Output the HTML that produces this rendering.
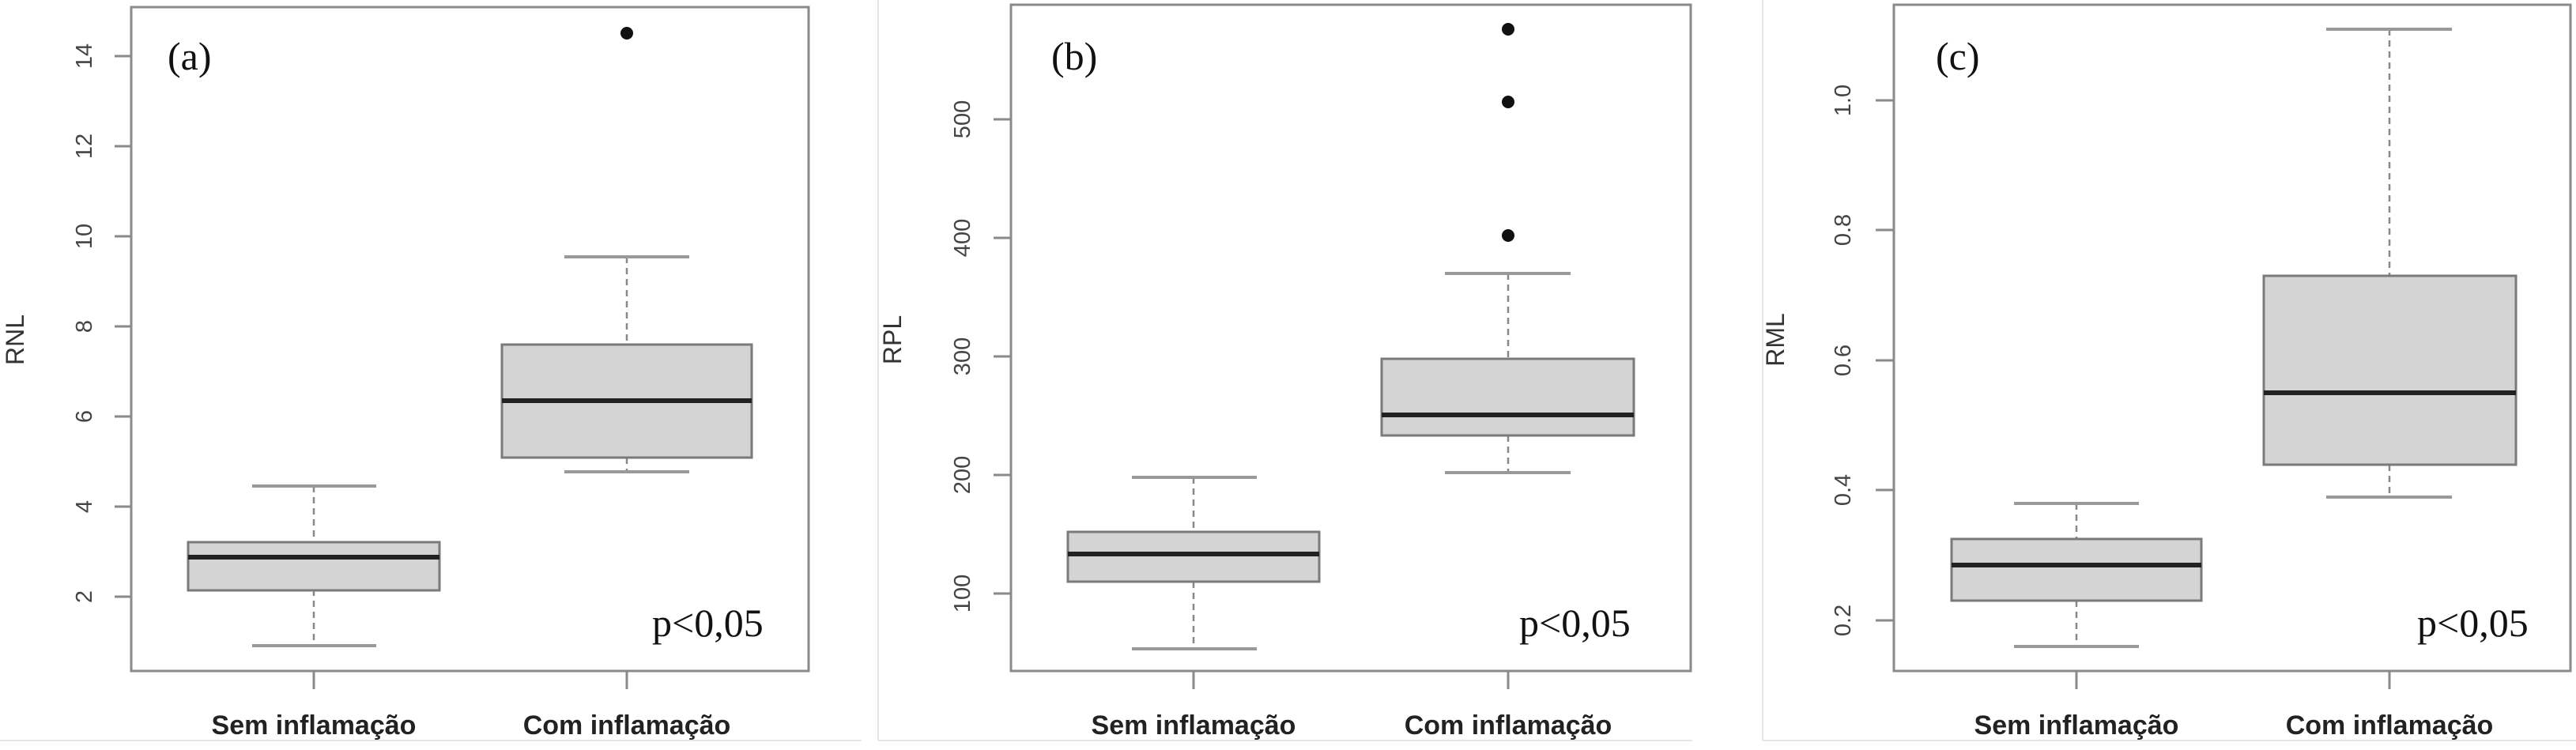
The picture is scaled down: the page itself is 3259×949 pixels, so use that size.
<!DOCTYPE html>
<html><head><meta charset="utf-8"><style>
html,body{margin:0;padding:0;background:#fff;}
svg{display:block;}
.tl{font-family:"Liberation Sans",sans-serif;font-size:29px;fill:#444;}
.al{font-family:"Liberation Sans",sans-serif;font-size:32px;fill:#333;}
.xl{font-family:"Liberation Sans",sans-serif;font-size:34px;font-weight:bold;fill:#222;}
.pl{font-family:"Liberation Serif",serif;font-size:50px;fill:#111;}
.fr{fill:none;stroke:#8a8a8a;stroke-width:3;}
.tk{stroke:#8a8a8a;stroke-width:3;}
.bx{fill:#d4d4d4;stroke:#7a7a7a;stroke-width:3;}
.md{stroke:#222;stroke-width:6;}
.wh{stroke:#888;stroke-width:2.5;stroke-dasharray:8,6;}
.cp{stroke:#999;stroke-width:4;}
</style></head><body>
<svg width="3259" height="949" viewBox="0 0 3259 949" xmlns="http://www.w3.org/2000/svg">
<rect width="3259" height="949" fill="#fff"/>
<!-- faint panel borders -->
<g stroke="#e6e6e6" stroke-width="2" fill="none">
<line x1="0" y1="937" x2="1090" y2="937"/>
<line x1="1111" y1="0" x2="1111" y2="937"/><line x1="1111" y1="937" x2="2141" y2="937"/>
<line x1="2230" y1="0" x2="2230" y2="937"/><line x1="2230" y1="937" x2="3259" y2="937"/>
</g>

<!-- Panel A -->
<rect class="fr" x="166" y="9" width="857" height="840"/>
<g class="tk">
<line x1="145" y1="755" x2="166" y2="755"/><line x1="145" y1="641" x2="166" y2="641"/>
<line x1="145" y1="527" x2="166" y2="527"/><line x1="145" y1="413" x2="166" y2="413"/>
<line x1="145" y1="299" x2="166" y2="299"/><line x1="145" y1="185" x2="166" y2="185"/>
<line x1="145" y1="71" x2="166" y2="71"/>
<line x1="397" y1="849" x2="397" y2="872"/><line x1="793" y1="849" x2="793" y2="872"/>
</g>
<g class="tl" text-anchor="middle">
<text transform="translate(116,755) rotate(-90)">2</text>
<text transform="translate(116,641) rotate(-90)">4</text>
<text transform="translate(116,527) rotate(-90)">6</text>
<text transform="translate(116,413) rotate(-90)">8</text>
<text transform="translate(116,299) rotate(-90)">10</text>
<text transform="translate(116,185) rotate(-90)">12</text>
<text transform="translate(116,71) rotate(-90)">14</text>
</g>
<text class="al" text-anchor="middle" transform="translate(30,430) rotate(-90)">RNL</text>
<line class="wh" x1="397" y1="615" x2="397" y2="686"/><line class="wh" x1="397" y1="746" x2="397" y2="817"/>
<line class="cp" x1="319" y1="615" x2="476" y2="615"/><line class="cp" x1="319" y1="817" x2="476" y2="817"/>
<rect class="bx" x="238" y="686" width="318" height="61"/>
<line class="md" x1="238" y1="705" x2="556" y2="705"/>
<line class="wh" x1="793" y1="325" x2="793" y2="436"/><line class="wh" x1="793" y1="579" x2="793" y2="597"/>
<line class="cp" x1="714" y1="325" x2="872" y2="325"/><line class="cp" x1="714" y1="597" x2="872" y2="597"/>
<rect class="bx" x="635" y="436" width="316" height="143"/>
<line class="md" x1="635" y1="507" x2="951" y2="507"/>
<circle cx="793" cy="42" r="8" fill="#111"/>
<text class="pl" x="212" y="88">(a)</text>
<text class="pl" x="825" y="805">p&lt;0,05</text>
<text class="xl" x="397" y="929" text-anchor="middle">Sem inflamação</text>
<text class="xl" x="793" y="929" text-anchor="middle">Com inflamação</text>

<!-- Panel B -->
<rect class="fr" x="1279" y="6" width="860" height="843"/>
<g class="tk">
<line x1="1257" y1="751" x2="1279" y2="751"/><line x1="1257" y1="601" x2="1279" y2="601"/>
<line x1="1257" y1="451" x2="1279" y2="451"/><line x1="1257" y1="301" x2="1279" y2="301"/>
<line x1="1257" y1="151" x2="1279" y2="151"/>
<line x1="1510" y1="849" x2="1510" y2="872"/><line x1="1908" y1="849" x2="1908" y2="872"/>
</g>
<g class="tl" text-anchor="middle">
<text transform="translate(1227,751) rotate(-90)">100</text>
<text transform="translate(1227,601) rotate(-90)">200</text>
<text transform="translate(1227,451) rotate(-90)">300</text>
<text transform="translate(1227,301) rotate(-90)">400</text>
<text transform="translate(1227,151) rotate(-90)">500</text>
</g>
<text class="al" text-anchor="middle" transform="translate(1140,430) rotate(-90)">RPL</text>
<line class="wh" x1="1510" y1="604" x2="1510" y2="673"/><line class="wh" x1="1510" y1="736" x2="1510" y2="821"/>
<line class="cp" x1="1432" y1="604" x2="1590" y2="604"/><line class="cp" x1="1432" y1="821" x2="1590" y2="821"/>
<rect class="bx" x="1351" y="673" width="318" height="63"/>
<line class="md" x1="1351" y1="701" x2="1669" y2="701"/>
<line class="wh" x1="1908" y1="346" x2="1908" y2="454"/><line class="wh" x1="1908" y1="551" x2="1908" y2="598"/>
<line class="cp" x1="1828" y1="346" x2="1987" y2="346"/><line class="cp" x1="1828" y1="598" x2="1987" y2="598"/>
<rect class="bx" x="1748" y="454" width="319" height="97"/>
<line class="md" x1="1748" y1="525" x2="2067" y2="525"/>
<circle cx="1908" cy="298" r="8" fill="#111"/>
<circle cx="1908" cy="129" r="8" fill="#111"/>
<circle cx="1908" cy="37" r="8" fill="#111"/>
<text class="pl" x="1330" y="88">(b)</text>
<text class="pl" x="1922" y="805">p&lt;0,05</text>
<text class="xl" x="1510" y="929" text-anchor="middle">Sem inflamação</text>
<text class="xl" x="1908" y="929" text-anchor="middle">Com inflamação</text>

<!-- Panel C -->
<rect class="fr" x="2396" y="6" width="856" height="843"/>
<g class="tk">
<line x1="2373" y1="785" x2="2396" y2="785"/><line x1="2373" y1="620" x2="2396" y2="620"/>
<line x1="2373" y1="456" x2="2396" y2="456"/><line x1="2373" y1="291" x2="2396" y2="291"/>
<line x1="2373" y1="127" x2="2396" y2="127"/>
<line x1="2627" y1="849" x2="2627" y2="872"/><line x1="3023" y1="849" x2="3023" y2="872"/>
</g>
<g class="tl" text-anchor="middle">
<text transform="translate(2341,785) rotate(-90)">0.2</text>
<text transform="translate(2341,620) rotate(-90)">0.4</text>
<text transform="translate(2341,456) rotate(-90)">0.6</text>
<text transform="translate(2341,291) rotate(-90)">0.8</text>
<text transform="translate(2341,127) rotate(-90)">1.0</text>
</g>
<text class="al" text-anchor="middle" transform="translate(2257,430) rotate(-90)">RML</text>
<line class="wh" x1="2627" y1="637" x2="2627" y2="682"/><line class="wh" x1="2627" y1="760" x2="2627" y2="818"/>
<line class="cp" x1="2548" y1="637" x2="2706" y2="637"/><line class="cp" x1="2548" y1="818" x2="2706" y2="818"/>
<rect class="bx" x="2469" y="682" width="316" height="78"/>
<line class="md" x1="2469" y1="715" x2="2785" y2="715"/>
<line class="wh" x1="3023" y1="37" x2="3023" y2="349"/><line class="wh" x1="3023" y1="588" x2="3023" y2="629"/>
<line class="cp" x1="2943" y1="37" x2="3102" y2="37"/><line class="cp" x1="2943" y1="629" x2="3102" y2="629"/>
<rect class="bx" x="2864" y="349" width="319" height="239"/>
<line class="md" x1="2864" y1="497" x2="3183" y2="497"/>
<text class="pl" x="2449" y="88">(c)</text>
<text class="pl" x="3058" y="805">p&lt;0,05</text>
<text class="xl" x="2627" y="929" text-anchor="middle">Sem inflamação</text>
<text class="xl" x="3023" y="929" text-anchor="middle">Com inflamação</text>
</svg>
</body></html>
